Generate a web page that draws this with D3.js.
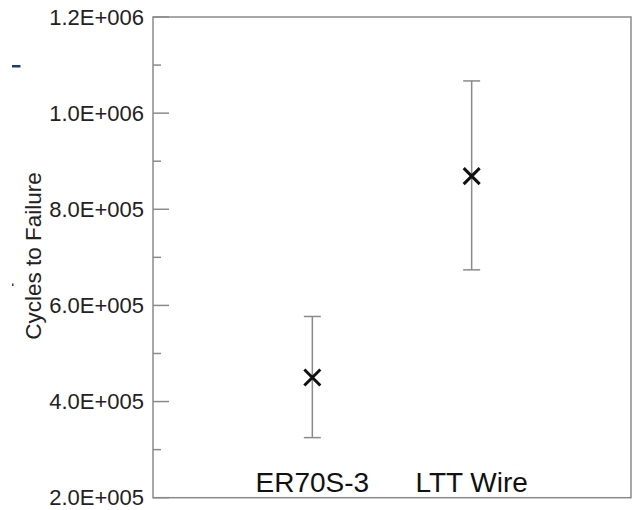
<!DOCTYPE html>
<html>
<head>
<meta charset="utf-8">
<script src="https://cdn.jsdelivr.net/npm/d3@7"></script>
<style>
  html, body { margin: 0; padding: 0; background: #fff; }
  svg { display: block; font-family: Arial, "Liberation Sans", sans-serif; }
</style>
</head>
<body>
<svg id="chart" width="632" height="510"></svg>
<script>
// Fatigue life by filler wire: mean cycles to failure with error range
const categories = ["ER70S-3", "LTT Wire"];
const meanCycles = [450000, 869000];
const upperCycles = [577000, 1067000];
const lowerCycles = [325000, 674000];
const majorTicks = [200000, 400000, 600000, 800000, 1000000, 1200000];
const minorTicks = [300000, 500000, 700000, 900000, 1100000];

const svg = d3.select("#chart");
const plot = { left: 153, right: 631, top: 17, bottom: 497.7 };

const x = d3.scalePoint().domain(categories).range([plot.left, plot.right]).padding(1);
const y = d3.scaleLinear().domain([200000, 1200000]).range([plot.bottom, plot.top]);

// Scientific labels such as 1.2E+006
const sci = v => {
  const e = Math.floor(Math.log10(v));
  const m = (v / Math.pow(10, e)).toFixed(1);
  return m + "E+" + String(e).padStart(3, "0");
};

const axisColor = "#8a8a8a";

// Frame
svg.append("rect")
  .attr("x", plot.left).attr("y", plot.top)
  .attr("width", plot.right - plot.left).attr("height", plot.bottom - plot.top)
  .attr("fill", "none").attr("stroke", axisColor).attr("stroke-width", 1.5);

// Inward tick marks: long for labelled values, short in between
const tickGroup = svg.append("g");
tickGroup.selectAll("line.major")
  .data(majorTicks)
  .join("line")
  .attr("class", "major")
  .attr("x1", plot.left).attr("x2", plot.left + 16)
  .attr("y1", d => y(d)).attr("y2", d => y(d))
  .attr("stroke", axisColor).attr("stroke-width", 1.5);
tickGroup.selectAll("line.minor")
  .data(minorTicks)
  .join("line")
  .attr("class", "minor")
  .attr("x1", plot.left).attr("x2", plot.left + 8)
  .attr("y1", d => y(d)).attr("y2", d => y(d))
  .attr("stroke", axisColor).attr("stroke-width", 1.5);

// Tick labels
const yAxis = svg.append("g")
  .attr("transform", `translate(${plot.left},0)`)
  .call(d3.axisLeft(y).tickValues(majorTicks).tickSize(0).tickPadding(9).tickFormat(sci));
yAxis.select(".domain").remove();
yAxis.selectAll("text")
  .attr("fill", "#222")
  .style("font-size", "22px")
  .style("font-family", "Arial, 'Liberation Sans', sans-serif");

// Axis title
svg.append("text")
  .attr("transform", "translate(41,256) rotate(-90)")
  .attr("text-anchor", "middle")
  .attr("fill", "#222")
  .style("font-size", "22.5px")
  .text("Cycles to Failure");

// Error bars
const capHalf = 8.5;
const bars = svg.append("g").selectAll("g")
  .data(categories.map((c, i) => ({ c, mean: meanCycles[i], hi: upperCycles[i], lo: lowerCycles[i] })))
  .join("g");

bars.append("line")
  .attr("x1", d => x(d.c)).attr("x2", d => x(d.c))
  .attr("y1", d => y(d.hi)).attr("y2", d => y(d.lo))
  .attr("stroke", axisColor).attr("stroke-width", 1.5);
bars.append("line")
  .attr("x1", d => x(d.c) - capHalf).attr("x2", d => x(d.c) + capHalf)
  .attr("y1", d => y(d.hi)).attr("y2", d => y(d.hi))
  .attr("stroke", axisColor).attr("stroke-width", 1.5);
bars.append("line")
  .attr("x1", d => x(d.c) - capHalf).attr("x2", d => x(d.c) + capHalf)
  .attr("y1", d => y(d.lo)).attr("y2", d => y(d.lo))
  .attr("stroke", axisColor).attr("stroke-width", 1.5);

// Mean markers (crosses)
const s = 8;
bars.append("path")
  .attr("d", d => {
    const cx = x(d.c), cy = y(d.mean);
    return `M${cx - s},${cy - s}L${cx + s},${cy + s}M${cx - s},${cy + s}L${cx + s},${cy - s}`;
  })
  .attr("stroke", "#111").attr("stroke-width", 3).attr("fill", "none");

// Category labels inside the plot area
svg.append("g").selectAll("text")
  .data(categories)
  .join("text")
  .attr("x", d => x(d))
  .attr("y", 491.5)
  .attr("text-anchor", "middle")
  .attr("fill", "#111")
  .style("font-size", "28px")
  .text(d => d);

// Small marks in the left margin
svg.append("rect").attr("x", 12).attr("y", 65).attr("width", 8.5).attr("height", 2.5).attr("fill", "#1a3a7a");
svg.append("rect").attr("x", 12).attr("y", 283.5).attr("width", 1.5).attr("height", 2.5).attr("fill", "#1a3a7a");
</script>
</body>
</html>
